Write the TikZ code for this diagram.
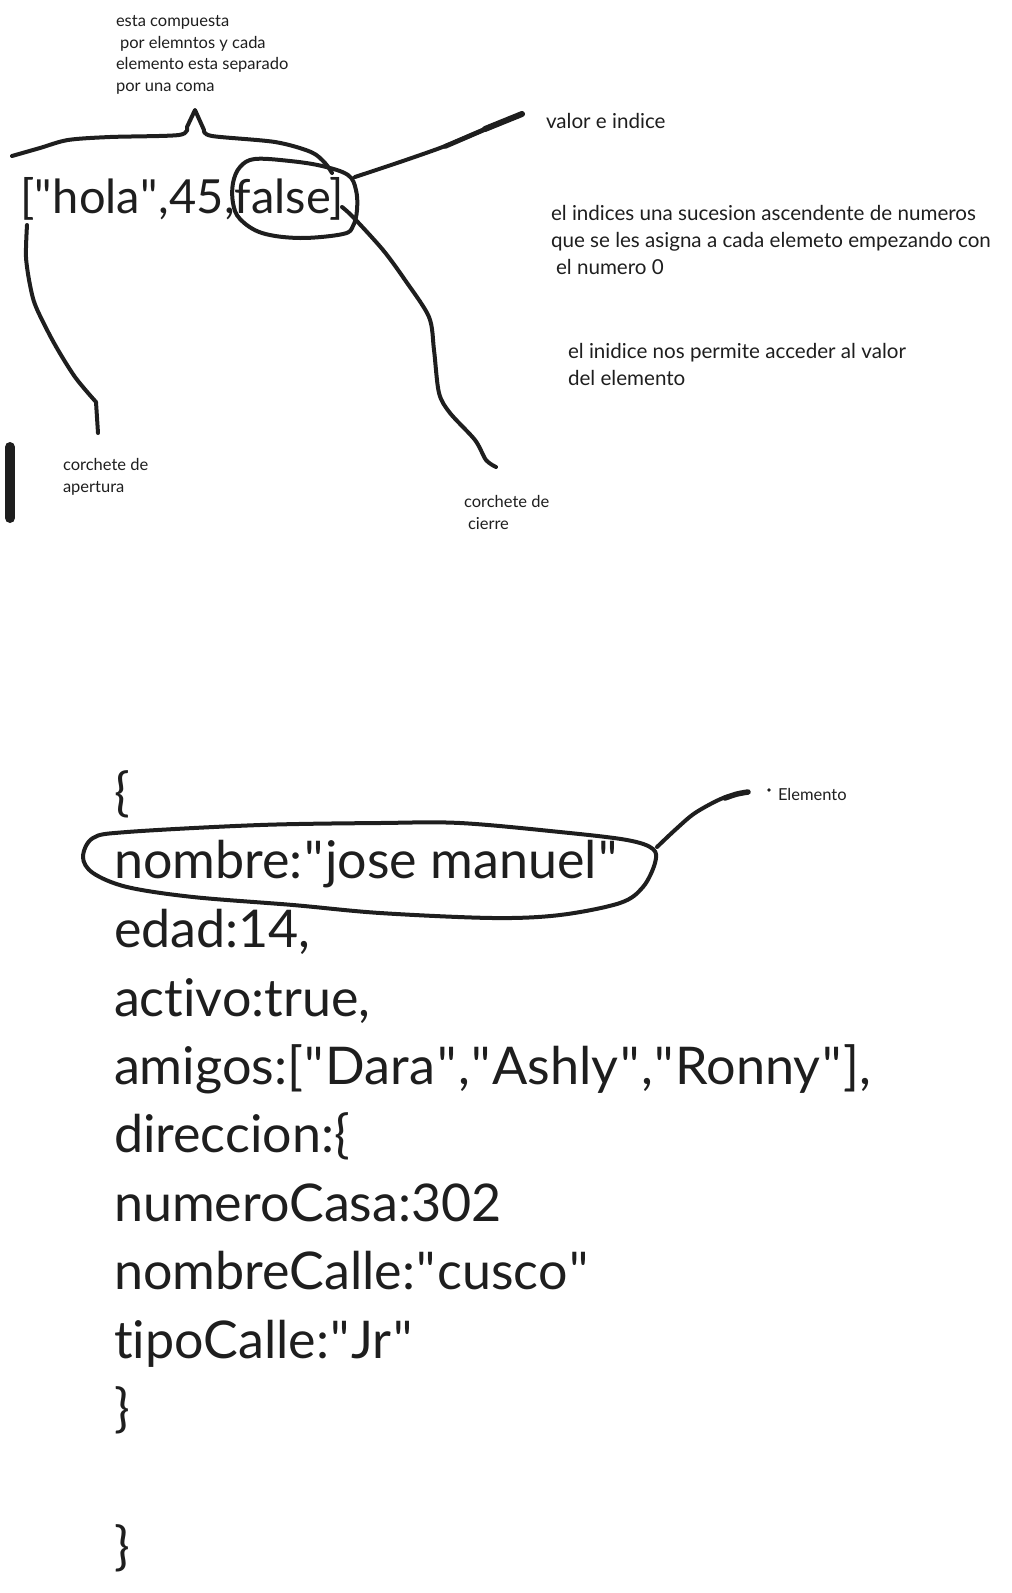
\documentclass[tikz,border=0pt]{standalone}
\usepackage{fontspec}
\newfontfamily\txtfont{Lato}[Ligatures=NoCommon]
\definecolor{ink}{HTML}{1E1E1E}
\newcommand{\dq}{\kern1.6pt"\kern1.6pt}
\newcommand{\dqs}{\kern0.6pt"\kern0.6pt}
\begin{document}
\begin{tikzpicture}[x=1pt,y=-1pt,
  every node/.style={inner sep=0pt, outer sep=0pt, text=ink, anchor=base west},
  smalltxt/.style={font=\txtfont\fontsize{16.5}{21.7}\selectfont, align=left},
  medtxt/.style={font=\txtfont\fontsize{20.6}{27}\selectfont, align=left},
  bigtxt/.style={font=\txtfont\fontsize{47}{54}\selectfont},
  codetxt/.style={font=\txtfont\fontsize{52}{60}\selectfont},
  eltxt/.style={font=\txtfont\fontsize{16.5}{19}\selectfont},
  pen/.style={draw=ink, line width=4pt, line cap=round, line join=round},
  heavypen/.style={pen, line width=5.5pt},
]
\useasboundingbox (0,0) rectangle (1012,1593);

% ---------- top part: array ----------
% (multi-line nodes: base anchor = baseline of the last line)
\node[smalltxt] (nota) at (116,91.5) {esta compuesta\\\hspace{4pt}por elemntos y cada\\elemento esta separado\\por una coma};
\node[medtxt] (valor) at (546,128.2) {valor e indice};
\node[medtxt] (indices) at (551,274.2) {el indices una sucesion ascendente de numeros\\que se les asigna a cada elemeto empezando con\\\hspace{5pt}el numero 0};
\node[medtxt] (acceso) at (568,385.2) {el inidice nos permite acceder al valor\\del elemento};
\node[smalltxt] (apertura) at (63,492.2) {corchete de\\apertura};
\node[smalltxt] (cierre) at (464,529.2) {corchete de\\\hspace{4pt}cierre};
\node[bigtxt] (arreglo) at (20,213) {[\dqs hola\dqs,45,false]};

% named end points
\coordinate (braceL) at (12,156);
\coordinate (braceR) at (332,173);
\coordinate (loopTR) at (355,177);
\coordinate (valorEnd) at (522,114);
\coordinate (cierreStart) at (342,207);
\coordinate (cierreEnd) at (496,467);
\coordinate (aperturaStart) at (27,225);
\coordinate (aperturaEnd) at (98,433);
\coordinate (barTop) at (10,447);
\coordinate (barBot) at (10,518);

% brace over the elements
\draw[pen] plot[smooth,tension=0.5] coordinates {(braceL) (40,148) (68,140) (110,137) (179,135) (187,127)}
  -- (195,110) -- plot[smooth,tension=0.5] coordinates {(204,130) (212,136) (275,142) (311,152) (325,163) (braceR)};

% loop around false]
\draw[pen] plot[smooth cycle,tension=0.6] coordinates {(240,167) (255,159) (290,161) (322,166) (348,175) (356,190) (357,210) (353,226) (343,234) (300,238) (262,233) (240,219) (233,203) (233,183)};

% line to "valor e indice"
\draw[pen] plot[smooth] coordinates {(loopTR) (400,162) (440,148) (467,137) (495,125) (valorEnd)};
\draw[pen, line width=4.8pt] plot[smooth] coordinates {(445,146.5) (467,137) (495,125) (valorEnd)};
\draw[heavypen, line width=6pt] plot[smooth] coordinates {(485,129) (valorEnd)};

% line to "corchete de cierre"
\draw[pen] plot[smooth,tension=0.5] coordinates {(cierreStart) (353,217) (383,250) (405,280) (429,317) (434,350) (439,393) (450,413) (475,440) (486,460) (cierreEnd)};

% line to "corchete de apertura"
\draw[pen] plot[smooth,tension=0.5] coordinates {(aperturaStart) (26,257) (30,285) (36,307) (54,343) (75,377) (96,402)} -- (aperturaEnd);

% thick bar
\draw[pen, line width=10pt] (barTop) -- (barBot);

% ---------- bottom part: object ----------
\node[codetxt] (c0) at (114,810) {\{};
\node[codetxt] (c1) at (114,878) {nombre:\dq jose manuel\dq};
\node[codetxt] (c2) at (114,947) {edad:14,};
\node[codetxt] (c3) at (114,1016) {activo:true,};
\node[codetxt] (c4) at (114,1084) {\resizebox{757pt}{\height}{amigos:[\dq Dara\dq,\dq Ashly\dq,\dq Ronny\dq],}};
\node[codetxt] (c5) at (114,1152) {direccion:\{};
\node[codetxt] (c6) at (114,1221) {numeroCasa:302};
\node[codetxt] (c7) at (114,1289) {nombreCalle:\dq cusco\dq};
\node[codetxt] (c8) at (114,1358) {tipoCalle:\dq Jr\dq};
\node[codetxt] (c9) at (114,1426) {\}};
\node[codetxt] (c10) at (114,1564) {\}};

% ellipse around the first element
\draw[pen] plot[smooth cycle,tension=0.55] coordinates {(93,838) (127,832) (260,825) (380,823) (460,823) (560,832) (627,840) (653,849) (655,863) (643,887) (620,903) (560,915) (493,918) (380,913) (293,905) (193,897) (127,887) (93,873) (83,857)};

\node[eltxt] (elem) at (778,800) {Elemento};
\coordinate (elStart) at (657,847);
\coordinate (elEnd) at (748,792);
\draw[pen] plot[smooth] coordinates {(elStart) (675,830) (695,813) (723,798) (elEnd)};
\draw[heavypen] plot[smooth] coordinates {(725,798) (737,794) (elEnd)};
\fill[ink] (769,790) circle (1.8);
\end{tikzpicture}
\end{document}
